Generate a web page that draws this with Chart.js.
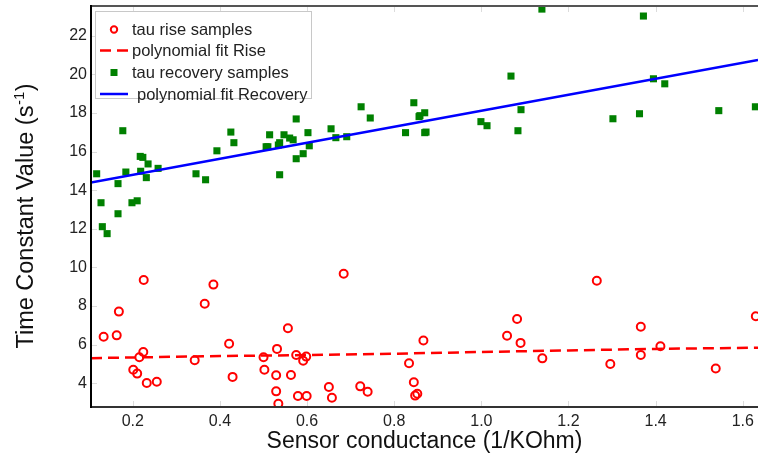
<!DOCTYPE html>
<html>
<head>
<meta charset="utf-8">
<title>Time constant vs sensor conductance</title>
<script src="https://cdn.jsdelivr.net/npm/chart.js@4.4.1/dist/chart.umd.min.js"></script>
<style>
  html, body { margin: 0; padding: 0; background: #fff; }
  #wrap { position: relative; width: 758px; height: 457px; }
</style>
</head>
<body>
<div id="wrap"><canvas id="tauChart"></canvas></div>
<script>
// tau rise samples (red circles)
const riseX = [0.133, 0.163, 0.168, 0.225, 0.201, 0.210, 0.215, 0.224, 0.232, 0.255,
  0.342, 0.365, 0.385, 0.421, 0.429, 0.500, 0.502, 0.531, 0.529, 0.529,
  0.534, 0.556, 0.563, 0.575, 0.579, 0.591, 0.598, 0.599, 0.650, 0.657,
  0.684, 0.722, 0.739, 0.834, 0.845, 0.848, 0.853, 0.867, 1.059, 1.082,
  1.090, 1.140, 1.265, 1.296, 1.366, 1.366, 1.411, 1.538, 1.630];
const riseY = [6.41, 6.48, 7.71, 9.35, 4.70, 4.50, 5.35, 5.62, 4.01, 4.08,
  5.19, 8.12, 9.11, 6.05, 4.33, 5.35, 4.70, 5.78, 4.41, 3.58,
  2.94, 6.85, 4.43, 5.46, 3.34, 5.17, 5.38, 3.34, 3.81, 3.25,
  9.67, 3.84, 3.56, 5.04, 4.05, 3.36, 3.46, 6.21, 6.46, 7.33,
  6.09, 5.29, 9.31, 5.00, 6.93, 5.46, 5.92, 4.76, 7.47];

// polynomial fit Rise (red dashed)
const fitRiseX = [0.104, 0.4, 0.6, 0.8, 1.0, 1.2, 1.4, 1.635];
const fitRiseY = [5.30, 5.41, 5.46, 5.53, 5.62, 5.70, 5.78, 5.84];

// tau recovery samples (green squares)
const recX = [0.117, 0.127, 0.130, 0.141, 0.177, 0.166, 0.166, 0.184, 0.198, 0.210,
  0.217, 0.223, 0.218, 0.231, 0.235, 0.258, 0.345, 0.367, 0.393, 0.425,
  0.432, 0.506, 0.510, 0.514, 0.537, 0.534, 0.537, 0.547, 0.560, 0.568,
  0.575, 0.575, 0.591, 0.602, 0.605, 0.655, 0.666, 0.691, 0.724, 0.745,
  0.826, 0.845, 0.857, 0.859, 0.870, 0.870, 0.873, 0.999, 1.013, 1.068,
  1.091, 1.084, 1.139, 1.302, 1.363, 1.372, 1.395, 1.421, 1.545, 1.629];
const recY = [14.85, 13.35, 12.11, 11.75, 17.08, 14.34, 12.78, 14.94, 13.35, 13.45,
  15.75, 15.70, 14.98, 14.65, 15.36, 15.13, 14.85, 14.54, 16.04, 17.01,
  16.46, 16.25, 16.25, 16.87, 16.46, 16.34, 14.80, 16.87, 16.70, 16.61,
  17.69, 15.63, 15.89, 16.98, 16.30, 17.18, 16.72, 16.77, 18.32, 17.74,
  16.98, 18.53, 17.81, 17.86, 18.01, 16.98, 17.01, 17.55, 17.34, 19.91,
  18.17, 17.08, 23.38, 17.70, 17.96, 23.02, 19.77, 19.51, 18.12, 18.32];

// polynomial fit Recovery (blue line)
const fitRecX = [0.104, 0.5, 1.0, 1.635];
const fitRecY = [14.40, 16.04, 18.11, 20.74];

const xRange = [0.104, 1.635];
const yRange = [2.77, 23.54];

const yTitle = ['Time Constant Value (s', '-1', ')'];

const FONT = '"Liberation Sans", Arial, Helvetica, sans-serif';

function pairs(xs, ys) {
  return xs.map((x, i) => ({ x: x, y: ys[i] }));
}

// inward tick marks, box lines, y title with superscript and the legend
const framePlugin = {
  id: 'frame',
  beforeDatasetsDraw(chart) {
    const { ctx, chartArea: a, scales } = chart;
    ctx.save();
    ctx.strokeStyle = '#dcdcdc';
    ctx.lineWidth = 1;
    ctx.beginPath();
    scales.x.ticks.forEach(t => {
      const px = Math.round(scales.x.getPixelForValue(t.value)) + 0.5;
      ctx.moveTo(px, a.top); ctx.lineTo(px, a.top + 6);
      ctx.moveTo(px, a.bottom); ctx.lineTo(px, a.bottom - 6);
    });
    scales.y.ticks.forEach(t => {
      const py = Math.round(scales.y.getPixelForValue(t.value)) + 0.5;
      ctx.moveTo(a.left, py); ctx.lineTo(a.left + 6, py);
    });
    ctx.stroke();
    ctx.restore();
  },
  afterDraw(chart) {
    const { ctx, chartArea: a } = chart;
    ctx.save();
    // box
    ctx.lineWidth = 2;
    ctx.strokeStyle = '#555';
    ctx.beginPath(); ctx.moveTo(a.left, a.top); ctx.lineTo(a.right, a.top); ctx.stroke();
    ctx.strokeStyle = '#333';
    ctx.beginPath(); ctx.moveTo(a.left, a.bottom); ctx.lineTo(a.right, a.bottom); ctx.stroke();
    ctx.strokeStyle = '#000';
    ctx.beginPath(); ctx.moveTo(a.left, a.top - 1); ctx.lineTo(a.left, a.bottom + 1); ctx.stroke();

    // y axis title, rotated, with a raised "-1"
    const big = '23.5px ' + FONT, small = '15px ' + FONT;
    ctx.font = big;
    const w0 = ctx.measureText(yTitle[0]).width;
    const w2 = ctx.measureText(yTitle[2]).width;
    ctx.font = small;
    const w1 = ctx.measureText(yTitle[1]).width + 1;
    const total = w0 + w1 + w2;
    ctx.translate(33, 216 + total / 2);
    ctx.rotate(-Math.PI / 2);
    ctx.fillStyle = '#111';
    ctx.textBaseline = 'alphabetic';
    ctx.font = big;
    ctx.fillText(yTitle[0], 0, 0);
    ctx.font = small;
    ctx.fillText(yTitle[1], w0 + 0.5, -9);
    ctx.font = big;
    ctx.fillText(yTitle[2], w0 + w1, 0);
    ctx.setTransform(1, 0, 0, 1, 0, 0);

    // legend
    const lx = a.left + 4, ly = a.top + 5, lw = 216, lh = 87;
    ctx.fillStyle = '#fff';
    ctx.fillRect(lx, ly, lw, lh);
    ctx.strokeStyle = '#c8c8c8';
    ctx.lineWidth = 1;
    ctx.strokeRect(lx + 0.5, ly + 0.5, lw, lh);

    const rows = [18.5, 39.5, 61.5, 83];
    const mx = lx + 19;
    ctx.font = '16.5px ' + FONT;
    ctx.textBaseline = 'middle';
    ctx.fillStyle = '#222';
    chart.data.datasets.forEach((ds, i) => {
      const ry = ly + rows[i];
      ctx.save();
      if (ds.showLine) {
        ctx.strokeStyle = ds.borderColor;
        ctx.lineWidth = ds.borderWidth;
        ctx.setLineDash(ds.borderDash || []);
        ctx.beginPath(); ctx.moveTo(lx + 5, ry); ctx.lineTo(lx + 33, ry); ctx.stroke();
      } else if (ds.pointStyle === 'circle') {
        ctx.strokeStyle = ds.pointBorderColor;
        ctx.lineWidth = ds.pointBorderWidth;
        ctx.beginPath(); ctx.arc(mx, ry, 3.2, 0, Math.PI * 2); ctx.stroke();
      } else {
        ctx.fillStyle = ds.pointBackgroundColor;
        ctx.fillRect(mx - 3.5, ry - 3.5, 7, 7);
      }
      ctx.restore();
      ctx.fillText(ds.label, lx + 37 + (i === 3 ? 5 : 0), ry + 1);
    });
    ctx.restore();
  }
};

new Chart(document.getElementById('tauChart'), {
  type: 'scatter',
  data: {
    datasets: [
      {
        label: 'tau rise samples',
        data: pairs(riseX, riseY),
        pointStyle: 'circle',
        pointRadius: 4,
        pointBorderWidth: 2,
        pointBorderColor: '#ff0000',
        pointBackgroundColor: 'rgba(0,0,0,0)',
        showLine: false,
        order: 3
      },
      {
        label: 'polynomial fit Rise',
        data: pairs(fitRiseX, fitRiseY),
        showLine: true,
        borderColor: '#ff0000',
        borderWidth: 2.5,
        borderDash: [11, 6],
        pointRadius: 0,
        fill: false,
        order: 2
      },
      {
        label: 'tau recovery samples',
        data: pairs(recX, recY),
        pointStyle: 'rect',
        pointRadius: 5,
        pointBorderWidth: 0,
        pointBackgroundColor: '#008000',
        pointBorderColor: '#008000',
        showLine: false,
        order: 1
      },
      {
        label: 'polynomial fit Recovery',
        data: pairs(fitRecX, fitRecY),
        showLine: true,
        borderColor: '#0000ff',
        borderWidth: 2.5,
        pointRadius: 0,
        fill: false,
        order: 0
      }
    ]
  },
  options: {
    responsive: true,
    maintainAspectRatio: false,
    animation: false,
    layout: { autoPadding: false, padding: { top: 6, right: 0, bottom: 0, left: 0 } },
    plugins: {
      legend: { display: false },
      tooltip: { enabled: false }
    },
    scales: {
      x: {
        type: 'linear',
        min: xRange[0],
        max: xRange[1],
        grid: { display: false, drawTicks: false },
        border: { display: false },
        ticks: {
          stepSize: 0.2,
          includeBounds: false,
          padding: 5,
          color: '#222',
          font: { family: FONT, size: 16 }
        },
        title: {
          display: true,
          text: 'Sensor conductance (1/KOhm)',
          color: '#111',
          font: { family: FONT, size: 23 },
          padding: { top: 0, bottom: 2 }
        },
        afterFit(scale) {
          scale.height = 50;
          scale.paddingLeft = 0;
          scale.paddingRight = 0;
        }
      },
      y: {
        type: 'linear',
        min: yRange[0],
        max: yRange[1],
        grid: { display: false, drawTicks: false },
        border: { display: false },
        ticks: {
          stepSize: 2,
          includeBounds: false,
          padding: 4,
          color: '#222',
          font: { family: FONT, size: 16 }
        },
        afterFit(scale) {
          scale.width = 91;
          scale.paddingTop = 0;
          scale.paddingBottom = 0;
        }
      }
    }
  },
  plugins: [framePlugin]
});
</script>
</body>
</html>
